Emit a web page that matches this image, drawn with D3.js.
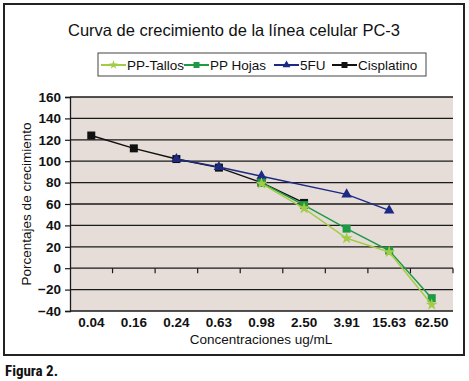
<!DOCTYPE html>
<html>
<head>
<meta charset="utf-8">
<script src="https://cdn.jsdelivr.net/npm/d3@7"></script>
<style>
  body { margin: 0; background: #fff; }
  text { font-family: "Liberation Sans", Arial, sans-serif; }
</style>
</head>
<body>
<div id="chart"></div>
<script>
var w = 469;
var h = 381;

var categories = ["0.04", "0.16", "0.24", "0.63", "0.98", "2.50", "3.91", "15.63", "62.50"];
var yTicks = [-40, -20, 0, 20, 40, 60, 80, 100, 120, 140, 160];

var ppTallos = [null, null, null, null, 79, 56, 28, 15, -34];
var ppHojas = [null, null, null, null, 80, 59, 37, 16.5, -28];
var fiveFU = [null, null, 102, 94.5, 86, null, 69, 54, null];
var cisplatino = [124, 112, 102, 94, 80, 61, null, null, null];

var series = [
    { name: "PP-Tallos", values: ppTallos, color: "#a3cc45", marker: "star" },
    { name: "PP Hojas", values: ppHojas, color: "#1e9a45", marker: "square" },
    { name: "5FU", values: fiveFU, color: "#1c2a84", marker: "triangle" },
    { name: "Cisplatino", values: cisplatino, color: "#111111", marker: "square" }
];

var svg = d3.select("#chart")
    .append("svg")
    .attr("width", w)
    .attr("height", h);

// outer frame
svg.append("rect")
    .attr("x", 4)
    .attr("y", 4)
    .attr("width", 460)
    .attr("height", 351)
    .attr("fill", "#fff")
    .attr("stroke", "#222")
    .attr("stroke-width", 2);

var x = d3.scaleBand()
    .domain(categories)
    .range([70, 453]);

var y = d3.scaleLinear()
    .domain([-40, 160])
    .range([311, 97]);

// plot background
svg.append("rect")
    .attr("x", 70)
    .attr("y", y(160))
    .attr("width", 383)
    .attr("height", y(-40) - y(160))
    .attr("fill", "#e6ddd9");

// grid lines
svg.selectAll("line.grid")
    .data(yTicks)
    .enter()
    .append("line")
    .attr("class", "grid")
    .attr("x1", 70)
    .attr("x2", 453)
    .attr("y1", function(d) { return y(d); })
    .attr("y2", function(d) { return y(d); })
    .attr("stroke", "#1a1a1a")
    .attr("stroke-width", 1.3);

// y axis
var yAxis = svg.append("g")
    .attr("transform", "translate(70,0)")
    .call(d3.axisLeft(y).tickValues(yTicks).tickSize(5).tickPadding(4));
yAxis.select(".domain").attr("stroke", "#1a1a1a").attr("stroke-width", 1.3);
yAxis.selectAll(".tick line").attr("stroke", "#1a1a1a").attr("stroke-width", 1.2);
yAxis.selectAll("text")
    .style("font-family", "Liberation Sans, Arial, sans-serif")
    .style("font-size", "13.5px")
    .style("font-weight", "bold")
    .attr("fill", "#111");

// x axis ticks on the zero line
var bounds = categories.slice(1).map(function(c) { return x(c); }).concat([x.range()[1]]);
svg.selectAll("line.xtick")
    .data(bounds)
    .enter()
    .append("line")
    .attr("class", "xtick")
    .attr("x1", function(d) { return d; })
    .attr("x2", function(d) { return d; })
    .attr("y1", y(0))
    .attr("y2", y(0) + 5)
    .attr("stroke", "#1a1a1a")
    .attr("stroke-width", 1.2);

svg.selectAll("text.xlab")
    .data(categories)
    .enter()
    .append("text")
    .attr("class", "xlab")
    .attr("x", function(d) { return x(d) + x.bandwidth() / 2; })
    .attr("y", 327)
    .attr("text-anchor", "middle")
    .style("font-size", "13.5px")
    .style("font-weight", "bold")
    .attr("fill", "#111")
    .text(function(d) { return d; });

function drawMarker(g, type, color, size) {
    if (type === "square") {
        g.append("rect")
            .attr("x", -size / 2).attr("y", -size / 2)
            .attr("width", size).attr("height", size)
            .attr("fill", color);
    } else if (type === "triangle") {
        g.append("path")
            .attr("d", d3.symbol().type(d3.symbolTriangle).size(size * size * 0.75)())
            .attr("fill", color);
    } else {
        g.append("path")
            .attr("d", d3.symbol().type(d3.symbolStar).size(size * size * 0.7)())
            .attr("fill", color);
    }
}

// lines and markers
series.slice().reverse().forEach(function(s) {
    var pts = s.values.map(function(v, i) { return { v: v, i: i }; })
        .filter(function(p) { return p.v != null; });
    svg.append("path")
        .datum(pts)
        .attr("fill", "none")
        .attr("stroke", s.color)
        .attr("stroke-width", 1.5)
        .attr("d", d3.line()
            .x(function(p) { return x(categories[p.i]) + x.bandwidth() / 2; })
            .y(function(p) { return y(p.v); }));
    pts.forEach(function(p) {
        var g = svg.append("g")
            .attr("transform", "translate(" + (x(categories[p.i]) + x.bandwidth() / 2) + "," + y(p.v) + ")");
        drawMarker(g, s.marker, s.color, 8);
    });
});

// title
svg.append("text")
    .attr("x", 234)
    .attr("y", 36)
    .attr("text-anchor", "middle")
    .style("font-size", "16.5px")
    .attr("fill", "#111")
    .text("Curva de crecimiento de la línea celular PC-3");

// legend
svg.append("rect")
    .attr("x", 98)
    .attr("y", 53)
    .attr("width", 328)
    .attr("height", 23)
    .attr("fill", "#fff")
    .attr("stroke", "#444")
    .attr("stroke-width", 1);

var legendX = [101, 184, 274, 332];
series.forEach(function(s, i) {
    var lx = legendX[i];
    svg.append("line")
        .attr("x1", lx).attr("x2", lx + 25)
        .attr("y1", 65).attr("y2", 65)
        .attr("stroke", s.color)
        .attr("stroke-width", 2);
    var g = svg.append("g").attr("transform", "translate(" + (lx + 12.5) + ",65)");
    drawMarker(g, s.marker, s.color, 6);
    svg.append("text")
        .attr("x", lx + 26)
        .attr("y", 70)
        .style("font-size", "13.5px")
        .attr("fill", "#111")
        .text(s.name);
});

// axis titles
svg.append("text")
    .attr("x", 261)
    .attr("y", 344)
    .attr("text-anchor", "middle")
    .style("font-size", "13.5px")
    .attr("fill", "#111")
    .text("Concentraciones ug/mL");

svg.append("text")
    .attr("transform", "translate(31,204) rotate(-90)")
    .attr("text-anchor", "middle")
    .style("font-size", "13.5px")
    .attr("fill", "#111")
    .text("Porcentajes de crecimiento");

svg.append("text")
    .attr("x", 5)
    .attr("y", 376)
    .style("font-family", "Roboto Condensed, Liberation Sans Narrow, Roboto, sans-serif")
    .style("font-size", "15px")
    .style("font-weight", "bold")
    .attr("fill", "#111")
    .text("Figura 2.");
</script>
</body>
</html>
